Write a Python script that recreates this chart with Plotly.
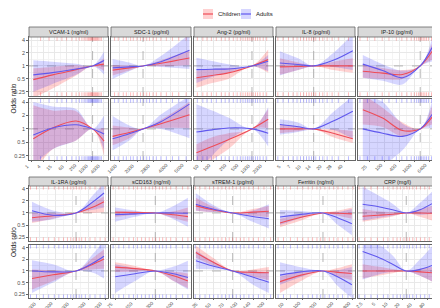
import math
import plotly.graph_objects as go

W, H = 440, 308

VARIABLES = ["VCAM-1 (ng/ml)", "SDC-1 (pg/ml)", "Ang-2 (pg/ml)", "IL-8 (pg/ml)", "IP-10 (pg/ml)",
             "IL-1RA (pg/ml)", "sCD163 (ng/ml)", "sTREM-1 (pg/ml)", "Ferritin (ng/ml)", "CRP (mg/l)"]
MODELS = ["Single model", "Global model"]
SERIES = ["Children", "Adults"]
Y_TICKS = [0.25, 0.5, 1, 2, 4]
Y_TICK_TEXT = ["0.25", "0.5", "1", "2", "4"]
Y_RANGE = [0.2, 4.7]

# ---------------- VCAM-1 ----------------
VCAM_TICKS = [1, 4, 15, 60, 250, 1000, 4000]
VCAM_RANGE = [0.79, 7080]
VCAM_REF = 1200
VCAM_X = [1.3, 12, 180, 1200, 4500]
VCAM_S_CH = [0.48, 0.62, 0.82, 1.0, 1.1]
VCAM_S_CH_LO = [0.18, 0.3, 0.6, 1.0, 0.77]
VCAM_S_CH_HI = [0.88, 0.95, 1.03, 1.0, 1.5]
VCAM_S_AD = [0.62, 0.7, 0.85, 1.0, 1.33]
VCAM_S_AD_LO = [0.25, 0.38, 0.62, 1.0, 0.63]
VCAM_S_AD_HI = [1.35, 1.25, 1.12, 1.0, 2.2]
VCAM_G_CH = [0.6, 1.05, 1.5, 1.0, 0.53]
VCAM_G_CH_LO = [0.1, 0.35, 0.55, 1.0, 0.25]
VCAM_G_CH_HI = [3.4, 2.6, 2.5, 1.0, 1.05]
VCAM_G_AD = [0.73, 1.05, 1.24, 1.0, 0.77]
VCAM_G_AD_LO = [0.15, 0.35, 0.55, 1.0, 0.33]
VCAM_G_AD_HI = [4.0, 3.2, 2.8, 1.0, 2.0]
VCAM_RUG = [3, 8, 20, 35, 60, 110, 180, 260, 350, 450, 550, 650, 750, 850, 950, 1050,
            1150, 1250, 1400, 1550, 1700, 1900, 2100, 2400, 2800, 3300]

# ---------------- SDC-1 ----------------
SDC_TICKS = [1400, 2000, 2800, 4000, 5600]
SDC_RANGE = [1160, 6200]
SDC_REF = 2270
SDC_X = [1200, 1700, 2270, 3300, 6000]
SDC_S_CH = [0.8, 0.9, 1.0, 1.15, 1.53]
SDC_S_CH_LO = [0.6, 0.78, 1.0, 0.98, 1.05]
SDC_S_CH_HI = [1.05, 1.02, 1.0, 1.35, 2.3]
SDC_S_AD = [0.9, 0.95, 1.0, 1.25, 2.3]
SDC_S_AD_LO = [0.5, 0.75, 1.0, 0.95, 0.85]
SDC_S_AD_HI = [1.45, 1.2, 1.0, 1.7, 5.5]
SDC_G_CH = [0.68, 0.83, 1.0, 1.3, 2.07]
SDC_G_CH_LO = [0.43, 0.62, 1.0, 1.05, 1.05]
SDC_G_CH_HI = [1.2, 1.08, 1.0, 1.6, 4.0]
SDC_G_AD = [0.6, 0.78, 1.0, 1.45, 3.6]
SDC_G_AD_LO = [0.33, 0.55, 1.0, 1.0, 0.62]
SDC_G_AD_HI = [1.95, 1.2, 1.0, 2.1, 5.5]
SDC_RUG = [1250, 1350, 1500, 1600, 1750, 1850, 2000, 2150, 2300, 2450, 2600, 2800,
           3000, 3300, 3700, 4200, 4800, 5600]

# ---------------- Ang-2 ----------------
ANG_TICKS = [50, 100, 250, 500, 1000, 2000]
ANG_RANGE = [33, 3170]
ANG_REF = 940
ANG_X = [38, 94, 240, 940, 2400]
ANG_S_CH = [0.53, 0.6, 0.69, 1.0, 1.4]
ANG_S_CH_LO = [0.31, 0.4, 0.5, 1.0, 0.69]
ANG_S_CH_HI = [0.77, 0.85, 0.9, 1.0, 2.4]
ANG_S_AD = [0.82, 0.84, 0.85, 1.0, 1.28]
ANG_S_AD_LO = [0.4, 0.55, 0.7, 1.0, 0.75]
ANG_S_AD_HI = [1.55, 1.3, 1.1, 1.0, 1.8]
ANG_G_CH = [0.29, 0.4, 0.57, 1.0, 1.64]
ANG_G_CH_LO = [0.1, 0.2, 0.35, 1.0, 1.05]
ANG_G_CH_HI = [0.45, 0.65, 0.8, 1.0, 2.8]
ANG_G_AD = [0.85, 0.95, 1.05, 1.0, 0.8]
ANG_G_AD_LO = [0.1, 0.25, 0.55, 1.0, 0.4]
ANG_G_AD_HI = [3.6, 2.6, 1.8, 1.0, 3.1]
ANG_RUG = [40, 55, 70, 90, 120, 160, 200, 250, 320, 400, 480, 560, 640, 720, 800, 900,
           1000, 1150, 1300, 1500, 1800, 2200]

# ---------------- IL-8 ----------------
IL8_TICKS = [5, 7, 10, 14, 20, 28, 40]
IL8_RANGE = [3.95, 56]
IL8_REF = 14
IL8_X = [4.5, 8.3, 14, 27, 52]
IL8_S_CH = [0.95, 0.97, 1.0, 1.0, 1.0]
IL8_S_CH_LO = [0.62, 0.8, 1.0, 0.8, 0.69]
IL8_S_CH_HI = [1.5, 1.2, 1.0, 1.25, 1.5]
IL8_S_AD = [1.17, 1.08, 1.0, 1.35, 2.26]
IL8_S_AD_LO = [0.6, 0.8, 1.0, 0.95, 0.8]
IL8_S_AD_HI = [2.2, 1.5, 1.0, 2.0, 5.5]
IL8_G_CH = [1.0, 1.0, 1.0, 0.8, 0.6]
IL8_G_CH_LO = [0.8, 0.88, 1.0, 0.65, 0.48]
IL8_G_CH_HI = [1.26, 1.12, 1.0, 0.98, 0.9]
IL8_G_AD = [1.26, 1.12, 1.0, 1.5, 2.5]
IL8_G_AD_LO = [0.74, 0.85, 1.0, 0.95, 0.6]
IL8_G_AD_HI = [1.65, 1.4, 1.0, 2.4, 5.5]
IL8_RUG = [4.2, 5, 6, 7, 8, 9, 10, 11, 12, 13, 14, 15, 17, 19, 22, 26, 32, 45]

# ---------------- IP-10 ----------------
IP10_TICKS = [25, 100, 400, 1600, 6400]
IP10_RANGE = [8.3, 12200]
IP10_REF = 2790
IP10_X = [13, 83, 530, 2790, 8600]
IP10_S_CH = [0.75, 0.68, 0.63, 1.0, 2.2]
IP10_S_CH_LO = [0.53, 0.5, 0.5, 1.0, 1.4]
IP10_S_CH_HI = [1.07, 0.9, 0.8, 1.0, 3.4]
IP10_S_AD = [1.1, 0.78, 0.53, 1.0, 2.7]
IP10_S_AD_LO = [0.53, 0.45, 0.37, 1.0, 1.28]
IP10_S_AD_HI = [1.8, 1.1, 0.78, 1.0, 4.5]
IP10_G_CH = [2.7, 1.75, 0.92, 1.0, 1.86]
IP10_G_CH_LO = [1.26, 1.1, 0.68, 1.0, 1.26]
IP10_G_CH_HI = [6, 3, 1.4, 1.0, 3.4]
IP10_G_AD = [1.0, 0.8, 0.68, 1.0, 2.14]
IP10_G_AD_LO = [0.1, 0.15, 0.33, 1.0, 1.05]
IP10_G_AD_HI = [6, 4, 1.3, 1.0, 4.4]
IP10_RUG = [10, 20, 40, 80, 150, 300, 500, 800, 1200, 1600, 2000, 2400, 2800, 3200,
            3700, 4300, 5000, 6000, 8000]

# ---------------- IL-1RA ----------------
IL1RA_TICKS = [1000, 2000, 4000, 8000, 16000]
IL1RA_RANGE = [657, 18100]
IL1RA_REF = 4730
IL1RA_X = [745, 1800, 4730, 9660, 15300]
IL1RA_S_CH = [0.76, 0.85, 1.0, 1.4, 1.9]
IL1RA_S_CH_LO = [0.56, 0.72, 1.0, 1.0, 1.04]
IL1RA_S_CH_HI = [1.0, 0.98, 1.0, 1.8, 2.6]
IL1RA_S_AD = [1.14, 0.88, 1.0, 1.9, 3.15]
IL1RA_S_AD_LO = [0.6, 0.7, 1.0, 1.2, 1.37]
IL1RA_S_AD_HI = [1.9, 1.15, 1.0, 2.8, 5.5]
IL1RA_G_CH = [0.64, 0.8, 1.0, 1.5, 2.03]
IL1RA_G_CH_LO = [0.33, 0.55, 1.0, 1.1, 1.14]
IL1RA_G_CH_HI = [1.1, 1.05, 1.0, 2.2, 3.6]
IL1RA_G_AD = [1.0, 0.95, 1.0, 1.6, 2.4]
IL1RA_G_AD_LO = [0.27, 0.5, 1.0, 0.9, 0.64]
IL1RA_G_AD_HI = [1.9, 1.5, 1.0, 2.8, 6]
IL1RA_RUG = [700, 900, 1200, 1500, 1900, 2300, 2800, 3300, 3800, 4300, 4800, 5400,
             6000, 7000, 8500, 10500, 13000, 16000]

# ---------------- sCD163 ----------------
CD163_TICKS = [75, 150, 300, 600]
CD163_RANGE = [65, 1000]
CD163_REF = 295
CD163_X = [75, 148, 295, 550, 900]
CD163_S_CH = [1.04, 1.02, 1.0, 0.9, 0.81]
CD163_S_CH_LO = [0.79, 0.9, 1.0, 0.75, 0.6]
CD163_S_CH_HI = [1.14, 1.1, 1.0, 1.1, 1.37]
CD163_S_AD = [0.91, 0.95, 1.0, 1.0, 0.98]
CD163_S_AD_LO = [0.6, 0.8, 1.0, 0.7, 0.45]
CD163_S_AD_HI = [1.37, 1.15, 1.0, 1.5, 2.4]
CD163_G_CH = [1.26, 1.15, 1.0, 0.75, 0.55]
CD163_G_CH_LO = [0.94, 0.95, 1.0, 0.55, 0.36]
CD163_G_CH_HI = [1.68, 1.35, 1.0, 0.95, 0.86]
CD163_G_AD = [0.71, 0.85, 1.0, 0.85, 0.68]
CD163_G_AD_LO = [0.27, 0.55, 1.0, 0.55, 0.33]
CD163_G_AD_HI = [1.5, 1.2, 1.0, 1.3, 1.85]
CD163_RUG = [70, 85, 100, 120, 140, 160, 185, 210, 240, 270, 300, 340, 380, 430, 500,
             600, 750, 900]

# ---------------- sTREM-1 ----------------
TREM_TICKS = [35, 50, 70, 100, 140, 200]
TREM_RANGE = [30, 234]
TREM_REF = 82
TREM_X = [31.5, 49, 82, 138, 210]
TREM_S_CH = [1.5, 1.2, 1.0, 1.05, 1.1]
TREM_S_CH_LO = [1.14, 1.05, 1.0, 0.85, 0.79]
TREM_S_CH_HI = [2.4, 1.45, 1.0, 1.25, 1.5]
TREM_S_AD = [1.65, 1.25, 1.0, 0.82, 0.72]
TREM_S_AD_LO = [1.14, 1.05, 1.0, 0.6, 0.41]
TREM_S_AD_HI = [3.1, 1.6, 1.0, 1.15, 1.65]
TREM_G_CH = [3.0, 1.7, 1.0, 0.92, 0.9]
TREM_G_CH_LO = [2.2, 1.4, 1.0, 0.72, 0.58]
TREM_G_CH_HI = [4.5, 2.2, 1.0, 1.1, 1.26]
TREM_G_AD = [1.85, 1.35, 1.0, 0.7, 0.51]
TREM_G_AD_LO = [1.14, 1.1, 1.0, 0.45, 0.27]
TREM_G_AD_HI = [3.4, 1.8, 1.0, 0.98, 0.94]
TREM_RUG = [31, 35, 40, 45, 50, 56, 62, 68, 75, 82, 90, 100, 110, 125, 140, 160, 185, 220]

# ---------------- Ferritin ----------------
FERR_TICKS = [50, 100, 200, 400, 800]
FERR_RANGE = [33, 870]
FERR_REF = 231
FERR_X = [39, 93, 231, 430, 765]
FERR_S_CH = [0.56, 0.78, 1.0, 0.98, 0.95]
FERR_S_CH_LO = [0.44, 0.65, 1.0, 0.85, 0.72]
FERR_S_CH_HI = [0.72, 0.92, 1.0, 1.15, 1.37]
FERR_S_AD = [0.79, 0.92, 1.0, 0.75, 0.54]
FERR_S_AD_LO = [0.5, 0.75, 1.0, 0.5, 0.28]
FERR_S_AD_HI = [1.18, 1.12, 1.0, 1.05, 1.25]
FERR_G_CH = [0.53, 0.78, 1.0, 0.92, 0.86]
FERR_G_CH_LO = [0.27, 0.55, 1.0, 0.72, 0.58]
FERR_G_CH_HI = [0.71, 0.95, 1.0, 1.2, 1.5]
FERR_G_AD = [0.78, 0.95, 1.0, 0.7, 0.44]
FERR_G_AD_LO = [0.44, 0.7, 1.0, 0.4, 0.2]
FERR_G_AD_HI = [1.68, 1.25, 1.0, 1.05, 1.26]
FERR_RUG = [36, 45, 60, 80, 100, 125, 150, 180, 210, 250, 300, 360, 430, 520, 650, 800]

# ---------------- CRP ----------------
CRP_TICKS = [2.5, 5, 10, 20, 40, 80]
CRP_RANGE = [1.7, 131]
CRP_REF = 25
CRP_X = [2.2, 5.1, 11.7, 25, 54, 105]
CRP_S_CH = [0.83, 0.88, 0.93, 1.0, 1.0, 0.98]
CRP_S_CH_LO = [0.6, 0.7, 0.82, 1.0, 0.8, 0.65]
CRP_S_CH_HI = [1.25, 1.1, 1.05, 1.0, 1.25, 1.5]
CRP_S_AD = [1.65, 1.45, 1.2, 1.0, 1.2, 1.7]
CRP_S_AD_LO = [0.65, 0.75, 0.85, 1.0, 0.9, 0.95]
CRP_S_AD_HI = [4.5, 2.8, 1.7, 1.0, 1.8, 3.4]
CRP_G_CH = [1.0, 1.0, 1.0, 1.0, 0.95, 0.9]
CRP_G_CH_LO = [0.64, 0.75, 0.88, 1.0, 0.75, 0.53]
CRP_G_CH_HI = [1.5, 1.3, 1.12, 1.0, 1.15, 1.26]
CRP_G_AD = [3.2, 2.3, 1.5, 1.0, 1.1, 1.39]
CRP_G_AD_LO = [0.6, 0.8, 0.95, 1.0, 0.75, 0.53]
CRP_G_AD_HI = [6, 5, 2.5, 1.0, 2.0, 4.4]
CRP_RUG = [1.8, 2.5, 3.5, 5, 7, 9, 12, 15, 18, 22, 26, 30, 36, 44, 55, 70, 90, 120]

SPECS = [
    (VCAM_TICKS, VCAM_RANGE, VCAM_REF, VCAM_X, VCAM_RUG,
     [(VCAM_S_CH, VCAM_S_CH_LO, VCAM_S_CH_HI, VCAM_S_AD, VCAM_S_AD_LO, VCAM_S_AD_HI),
      (VCAM_G_CH, VCAM_G_CH_LO, VCAM_G_CH_HI, VCAM_G_AD, VCAM_G_AD_LO, VCAM_G_AD_HI)]),
    (SDC_TICKS, SDC_RANGE, SDC_REF, SDC_X, SDC_RUG,
     [(SDC_S_CH, SDC_S_CH_LO, SDC_S_CH_HI, SDC_S_AD, SDC_S_AD_LO, SDC_S_AD_HI),
      (SDC_G_CH, SDC_G_CH_LO, SDC_G_CH_HI, SDC_G_AD, SDC_G_AD_LO, SDC_G_AD_HI)]),
    (ANG_TICKS, ANG_RANGE, ANG_REF, ANG_X, ANG_RUG,
     [(ANG_S_CH, ANG_S_CH_LO, ANG_S_CH_HI, ANG_S_AD, ANG_S_AD_LO, ANG_S_AD_HI),
      (ANG_G_CH, ANG_G_CH_LO, ANG_G_CH_HI, ANG_G_AD, ANG_G_AD_LO, ANG_G_AD_HI)]),
    (IL8_TICKS, IL8_RANGE, IL8_REF, IL8_X, IL8_RUG,
     [(IL8_S_CH, IL8_S_CH_LO, IL8_S_CH_HI, IL8_S_AD, IL8_S_AD_LO, IL8_S_AD_HI),
      (IL8_G_CH, IL8_G_CH_LO, IL8_G_CH_HI, IL8_G_AD, IL8_G_AD_LO, IL8_G_AD_HI)]),
    (IP10_TICKS, IP10_RANGE, IP10_REF, IP10_X, IP10_RUG,
     [(IP10_S_CH, IP10_S_CH_LO, IP10_S_CH_HI, IP10_S_AD, IP10_S_AD_LO, IP10_S_AD_HI),
      (IP10_G_CH, IP10_G_CH_LO, IP10_G_CH_HI, IP10_G_AD, IP10_G_AD_LO, IP10_G_AD_HI)]),
    (IL1RA_TICKS, IL1RA_RANGE, IL1RA_REF, IL1RA_X, IL1RA_RUG,
     [(IL1RA_S_CH, IL1RA_S_CH_LO, IL1RA_S_CH_HI, IL1RA_S_AD, IL1RA_S_AD_LO, IL1RA_S_AD_HI),
      (IL1RA_G_CH, IL1RA_G_CH_LO, IL1RA_G_CH_HI, IL1RA_G_AD, IL1RA_G_AD_LO, IL1RA_G_AD_HI)]),
    (CD163_TICKS, CD163_RANGE, CD163_REF, CD163_X, CD163_RUG,
     [(CD163_S_CH, CD163_S_CH_LO, CD163_S_CH_HI, CD163_S_AD, CD163_S_AD_LO, CD163_S_AD_HI),
      (CD163_G_CH, CD163_G_CH_LO, CD163_G_CH_HI, CD163_G_AD, CD163_G_AD_LO, CD163_G_AD_HI)]),
    (TREM_TICKS, TREM_RANGE, TREM_REF, TREM_X, TREM_RUG,
     [(TREM_S_CH, TREM_S_CH_LO, TREM_S_CH_HI, TREM_S_AD, TREM_S_AD_LO, TREM_S_AD_HI),
      (TREM_G_CH, TREM_G_CH_LO, TREM_G_CH_HI, TREM_G_AD, TREM_G_AD_LO, TREM_G_AD_HI)]),
    (FERR_TICKS, FERR_RANGE, FERR_REF, FERR_X, FERR_RUG,
     [(FERR_S_CH, FERR_S_CH_LO, FERR_S_CH_HI, FERR_S_AD, FERR_S_AD_LO, FERR_S_AD_HI),
      (FERR_G_CH, FERR_G_CH_LO, FERR_G_CH_HI, FERR_G_AD, FERR_G_AD_LO, FERR_G_AD_HI)]),
    (CRP_TICKS, CRP_RANGE, CRP_REF, CRP_X, CRP_RUG,
     [(CRP_S_CH, CRP_S_CH_LO, CRP_S_CH_HI, CRP_S_AD, CRP_S_AD_LO, CRP_S_AD_HI),
      (CRP_G_CH, CRP_G_CH_LO, CRP_G_CH_HI, CRP_G_AD, CRP_G_AD_LO, CRP_G_AD_HI)]),
]

# ---------------- styling / layout ----------------
FONT = "Liberation Sans, Arial, sans-serif"
RED_LINE = "rgb(238,76,88)"
BLUE_LINE = "rgb(96,88,238)"
RED_FILL = "rgba(255,0,0,0.18)"
BLUE_FILL = "rgba(0,0,255,0.16)"
RED_RUG = "rgba(255,0,0,0.45)"
BLUE_RUG = "rgba(0,0,255,0.45)"
BORDER = "#666666"
GRID = "#e8e8e8"
GRID_MINOR = "#f4f4f4"
STRIP_FILL = "#d9d9d9"
TICK_COL = "#4d4d4d"

COL_PX = [(21, 100), (103, 183), (186, 265), (268, 347), (350, 428)]
ROW_PX = [[(29, 88), (91, 152)], [(178, 233), (237, 290)]]
STRIP_PX = [(19, 29), (169, 178)]


def fx(p):
    return p / W


def fy(p):
    return 1 - p / H


def geo_mid(vals):
    return [math.sqrt(a * b) for a, b in zip(vals[:-1], vals[1:])]


fig = go.Figure()
layout = dict(
    width=W, height=H, margin=dict(l=0, r=0, t=0, b=0),
    paper_bgcolor="white", plot_bgcolor="white", showlegend=False,
    font=dict(family=FONT, size=5, color=TICK_COL),
)
shapes = []
annotations = []

y_top_rug = Y_RANGE[1] / 2 ** (1.6 / 13)
y_bot_rug = Y_RANGE[0] * 2 ** (1.6 / 13)

for b in range(2):
    for r in range(2):
        for c in range(5):
            v = b * 5 + c
            k = b * 10 + r * 5 + c + 1
            ticks, xr, ref, xs, rug, models = SPECS[v]
            ch, ch_lo, ch_hi, ad, ad_lo, ad_hi = models[r]
            xa = "x" if k == 1 else f"x{k}"
            ya = "y" if k == 1 else f"y{k}"
            x0p, x1p = COL_PX[c]
            y0p, y1p = ROW_PX[b][r]
            layout["xaxis" if k == 1 else f"xaxis{k}"] = dict(
                domain=[fx(x0p), fx(x1p)], anchor=ya, type="log",
                range=[math.log10(xr[0]), math.log10(xr[1])],
                tickvals=ticks, showticklabels=False,
                ticks="outside" if r == 1 else "",
                ticklen=1.5, tickcolor=BORDER, tickwidth=0.7,
                showline=True, mirror=True, linecolor=BORDER, linewidth=0.8,
                showgrid=True, gridcolor=GRID, gridwidth=0.7,
                minor=dict(tickvals=geo_mid(ticks), showgrid=True, gridcolor=GRID_MINOR,
                           gridwidth=0.5, ticks=""),
                zeroline=False, fixedrange=True,
            )
            layout["yaxis" if k == 1 else f"yaxis{k}"] = dict(
                domain=[fy(y1p), fy(y0p)], anchor=xa, type="log",
                range=[math.log10(Y_RANGE[0]), math.log10(Y_RANGE[1])],
                tickvals=Y_TICKS, ticktext=Y_TICK_TEXT,
                showticklabels=(c == 0), ticks="outside" if c == 0 else "",
                ticklen=2, tickcolor=BORDER, tickwidth=0.7,
                tickfont=dict(size=5.5, color=TICK_COL, family=FONT),
                showline=True, mirror=True, linecolor=BORDER, linewidth=0.8,
                showgrid=True, gridcolor=GRID, gridwidth=0.7,
                minor=dict(tickvals=geo_mid(Y_TICKS), showgrid=True, gridcolor=GRID_MINOR,
                           gridwidth=0.5, ticks=""),
                zeroline=False, fixedrange=True,
            )
            # rotated x tick labels (global model row only, like facet_grid)
            if r == 1:
                for t in ticks:
                    annotations.append(dict(
                        text=f"{t:g}", xref=xa, yref="paper", x=math.log10(t), y=fy(y1p + 1.8),
                        xanchor="right", yanchor="top", textangle=-45, showarrow=False,
                        borderpad=0, font=dict(size=4.8, color=TICK_COL, family=FONT)))
            # reference dashed lines
            fig.add_trace(go.Scatter(x=[xr[0], xr[1]], y=[1, 1], xaxis=xa, yaxis=ya,
                                     mode="lines", line=dict(color="#999999", width=0.7, dash="dash"),
                                     hoverinfo="skip"))
            fig.add_trace(go.Scatter(x=[ref, ref], y=[Y_RANGE[0], Y_RANGE[1]], xaxis=xa, yaxis=ya,
                                     mode="lines", line=dict(color="#999999", width=0.7, dash="dash"),
                                     hoverinfo="skip"))
            # ribbons
            for lo, hi, fc in ((ch_lo, ch_hi, RED_FILL), (ad_lo, ad_hi, BLUE_FILL)):
                fig.add_trace(go.Scatter(x=xs, y=lo, xaxis=xa, yaxis=ya, mode="lines",
                                         line=dict(width=0, shape="spline", smoothing=0.9),
                                         hoverinfo="skip"))
                fig.add_trace(go.Scatter(x=xs, y=hi, xaxis=xa, yaxis=ya, mode="lines",
                                         line=dict(width=0, shape="spline", smoothing=0.9),
                                         fill="tonexty", fillcolor=fc, hoverinfo="skip"))
            # lines
            for mid, lc, nm in ((ch, RED_LINE, SERIES[0]), (ad, BLUE_LINE, SERIES[1])):
                fig.add_trace(go.Scatter(x=xs, y=mid, xaxis=xa, yaxis=ya, mode="lines", name=nm,
                                         line=dict(color=lc, width=1.1, shape="spline", smoothing=0.9)))
            # rugs
            rc = RED_RUG if r == 0 else BLUE_RUG
            for yv in (y_top_rug, y_bot_rug):
                fig.add_trace(go.Scatter(x=rug, y=[yv] * len(rug), xaxis=xa, yaxis=ya, mode="markers",
                                         marker=dict(symbol="line-ns", size=3,
                                                     line=dict(color=rc, width=0.6)),
                                         cliponaxis=False, hoverinfo="skip"))
            # top strip
            if r == 0:
                s0, s1 = STRIP_PX[b]
                shapes.append(dict(type="rect", xref="paper", yref="paper",
                                   x0=fx(x0p), x1=fx(x1p), y0=fy(s1), y1=fy(s0),
                                   fillcolor=STRIP_FILL, line=dict(color=BORDER, width=0.8)))
                annotations.append(dict(text=VARIABLES[v], xref="paper", yref="paper",
                                        x=fx((x0p + x1p) / 2), y=fy((s0 + s1) / 2),
                                        showarrow=False, font=dict(size=5.5, color="#1a1a1a", family=FONT),
                                        xanchor="center", yanchor="middle"))
        # right strip for row
        y0p, y1p = ROW_PX[b][r]
        shapes.append(dict(type="rect", xref="paper", yref="paper",
                           x0=fx(428), x1=fx(441), y0=fy(y1p), y1=fy(y0p),
                           fillcolor=STRIP_FILL, line=dict(color=BORDER, width=0.8)))
        annotations.append(dict(text=MODELS[r], xref="paper", yref="paper",
                                x=fx(433.5), y=fy((y0p + y1p) / 2), textangle=90,
                                showarrow=False, borderpad=0, borderwidth=0,
                                font=dict(size=5.3, color="#1a1a1a", family=FONT),
                                xanchor="center", yanchor="middle"))
    # y-axis title per block
    annotations.append(dict(text="Odds ratio", xref="paper", yref="paper",
                            x=fx(5), y=fy((ROW_PX[b][0][0] + ROW_PX[b][1][1]) / 2), textangle=-90,
                            showarrow=False, font=dict(size=6.5, color="#1a1a1a", family=FONT),
                            xanchor="center", yanchor="middle"))

# legend (drawn manually, ggplot style keys)
LEG = [(SERIES[0], RED_FILL, RED_LINE, 195, 208), (SERIES[1], BLUE_FILL, BLUE_LINE, 233, 246)]
for name, fc, lc, kx, tx in LEG:
    shapes.append(dict(type="rect", xref="paper", yref="paper", x0=fx(kx), x1=fx(kx + 10),
                       y0=fy(11), y1=fy(1), fillcolor=fc, line=dict(width=0)))
    shapes.append(dict(type="line", xref="paper", yref="paper", x0=fx(kx), x1=fx(kx + 10),
                       y0=fy(6), y1=fy(6), line=dict(color=lc, width=1.2)))
    annotations.append(dict(text=name, xref="paper", yref="paper", x=fx(tx), y=fy(6),
                            showarrow=False, xanchor="left", yanchor="middle",
                            font=dict(size=6, color="#1a1a1a", family=FONT)))

layout["shapes"] = shapes
layout["annotations"] = annotations
fig.update_layout(**layout)
fig.write_html("out.html")
